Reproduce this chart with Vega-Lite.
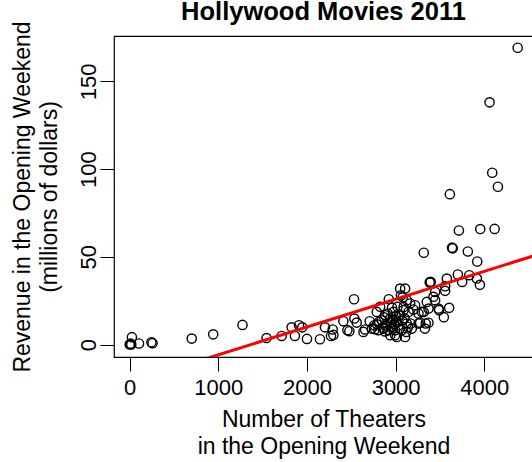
{
  "$schema": "https://vega.github.io/schema/vega-lite/v6.json",
  "autosize": {"type": "none"},
  "padding": {"left": 114, "top": 36, "right": 0, "bottom": 105},
  "width": 419,
  "height": 321,
  "background": "white",
  "config": {
    "font": "Liberation Sans",
    "view": {"stroke": "black", "strokeWidth": 1.2},
    "axis": {"grid": false, "domain": false, "tickColor": "black", "tickSize": 14, "tickWidth": 1, "labelColor": "black", "titleColor": "black", "labelFont": "Liberation Sans", "titleFont": "Liberation Sans", "labelFontSize": 22, "titleFontSize": 23, "titleFontWeight": "normal"}
  },
  "title": {"text": "Hollywood Movies 2011", "anchor": "middle", "frame": "group", "baseline": "alphabetic", "offset": 1, "dy": 25.5, "fontSize": 25.5, "fontWeight": "bold", "font": "Liberation Sans", "color": "black"},
  "datasets": {
    "movies": [
      {"theaters": 0, "revenue": 0}, {"theaters": 10, "revenue": 0.5}, {"theaters": 18, "revenue": 0}, {"theaters": 25, "revenue": 4.2},
      {"theaters": 105, "revenue": 0.6}, {"theaters": 245, "revenue": 1.3}, {"theaters": 258, "revenue": 0.8}, {"theaters": 700, "revenue": 3.4},
      {"theaters": 942, "revenue": 5.8}, {"theaters": 1273, "revenue": 11.2}, {"theaters": 1544, "revenue": 3.7}, {"theaters": 1714, "revenue": 4.9},
      {"theaters": 1827, "revenue": 9.8}, {"theaters": 1864, "revenue": 4.9}, {"theaters": 1910, "revenue": 11}, {"theaters": 1947, "revenue": 9.8},
      {"theaters": 2000, "revenue": 3.2}, {"theaters": 2147, "revenue": 3.0}, {"theaters": 2203, "revenue": 9.8}, {"theaters": 2271, "revenue": 4.9},
      {"theaters": 2290, "revenue": 8.6}, {"theaters": 2298, "revenue": 5.5}, {"theaters": 2411, "revenue": 13.3}, {"theaters": 2456, "revenue": 8.2},
      {"theaters": 2478, "revenue": 7.6}, {"theaters": 2531, "revenue": 25.8}, {"theaters": 2535, "revenue": 14.8}, {"theaters": 2561, "revenue": 12.5},
      {"theaters": 2637, "revenue": 7.2}, {"theaters": 2655, "revenue": 8.6}, {"theaters": 2708, "revenue": 13.3}, {"theaters": 2731, "revenue": 9.1},
      {"theaters": 2768, "revenue": 8.7}, {"theaters": 2787, "revenue": 18.6}, {"theaters": 2790, "revenue": 11.5}, {"theaters": 2806, "revenue": 8.2},
      {"theaters": 2815, "revenue": 13}, {"theaters": 2825, "revenue": 21.5}, {"theaters": 2844, "revenue": 13.9}, {"theaters": 2850, "revenue": 9.5},
      {"theaters": 2863, "revenue": 9.1}, {"theaters": 2870, "revenue": 15.5}, {"theaters": 2881, "revenue": 16.7}, {"theaters": 2890, "revenue": 11},
      {"theaters": 2900, "revenue": 12}, {"theaters": 2910, "revenue": 17.7}, {"theaters": 2919, "revenue": 8.2}, {"theaters": 2923, "revenue": 25.8},
      {"theaters": 2938, "revenue": 14.8}, {"theaters": 2940, "revenue": 5.3}, {"theaters": 2950, "revenue": 12.5}, {"theaters": 2957, "revenue": 10},
      {"theaters": 2970, "revenue": 14}, {"theaters": 2975, "revenue": 18.6}, {"theaters": 2985, "revenue": 11.5}, {"theaters": 2994, "revenue": 5.3},
      {"theaters": 2994, "revenue": 8.2}, {"theaters": 3006, "revenue": 13.9}, {"theaters": 3013, "revenue": 4.3}, {"theaters": 3015, "revenue": 12.9},
      {"theaters": 3021, "revenue": 21.5}, {"theaters": 3032, "revenue": 11}, {"theaters": 3035, "revenue": 16.7}, {"theaters": 3045, "revenue": 9},
      {"theaters": 3051, "revenue": 31.9}, {"theaters": 3060, "revenue": 28}, {"theaters": 3107, "revenue": 31.9}, {"theaters": 3051, "revenue": 16.7},
      {"theaters": 3070, "revenue": 8.2}, {"theaters": 3075, "revenue": 13.5}, {"theaters": 3089, "revenue": 19.6}, {"theaters": 3090, "revenue": 21.4},
      {"theaters": 3100, "revenue": 15}, {"theaters": 3107, "revenue": 4.3}, {"theaters": 3119, "revenue": 7.2}, {"theaters": 3126, "revenue": 12},
      {"theaters": 3126, "revenue": 25.3}, {"theaters": 3145, "revenue": 18.6}, {"theaters": 3164, "revenue": 23.4}, {"theaters": 3170, "revenue": 12},
      {"theaters": 3183, "revenue": 9.1}, {"theaters": 3200, "revenue": 20}, {"theaters": 3220, "revenue": 22.4}, {"theaters": 3258, "revenue": 17.7},
      {"theaters": 3258, "revenue": 12}, {"theaters": 3277, "revenue": 12.4}, {"theaters": 3296, "revenue": 18.6}, {"theaters": 3318, "revenue": 18.6},
      {"theaters": 3330, "revenue": 9.1}, {"theaters": 3318, "revenue": 52.3}, {"theaters": 3340, "revenue": 12}, {"theaters": 3352, "revenue": 24.3},
      {"theaters": 3371, "revenue": 12.4}, {"theaters": 3371, "revenue": 20.5}, {"theaters": 3385, "revenue": 35.5}, {"theaters": 3390, "revenue": 35.2},
      {"theaters": 3395, "revenue": 35.8}, {"theaters": 3427, "revenue": 27.2}, {"theaters": 3446, "revenue": 30}, {"theaters": 3446, "revenue": 25.3},
      {"theaters": 3484, "revenue": 20.5}, {"theaters": 3491, "revenue": 19.6}, {"theaters": 3544, "revenue": 15.6}, {"theaters": 3559, "revenue": 30.6},
      {"theaters": 3559, "revenue": 33.2}, {"theaters": 3578, "revenue": 37.6}, {"theaters": 3604, "revenue": 20.9}, {"theaters": 3612, "revenue": 85.7},
      {"theaters": 3636, "revenue": 55.2}, {"theaters": 3645, "revenue": 54.8}, {"theaters": 3702, "revenue": 39.9}, {"theaters": 3714, "revenue": 65},
      {"theaters": 3751, "revenue": 35.7}, {"theaters": 3815, "revenue": 53}, {"theaters": 3831, "revenue": 39.5}, {"theaters": 3917, "revenue": 37.6},
      {"theaters": 3921, "revenue": 47.3}, {"theaters": 3951, "revenue": 34}, {"theaters": 3955, "revenue": 65.8}, {"theaters": 4060, "revenue": 138},
      {"theaters": 4090, "revenue": 97.9}, {"theaters": 4117, "revenue": 65.9}, {"theaters": 4154, "revenue": 89.9}, {"theaters": 4377, "revenue": 169.1},
      {"theaters": 2880, "revenue": 7.5}, {"theaters": 3000, "revenue": 16}, {"theaters": 3140, "revenue": 10}, {"theaters": 2760, "revenue": 11},
      {"theaters": 2960, "revenue": 21}, {"theaters": 3080, "revenue": 27}
    ],
    "fit": [
      {"theaters": 0, "revenue": -21.7},
      {"theaters": 4560, "revenue": 50.6}
    ]
  },
  "layer": [
    {
      "data": {"name": "movies"},
      "mark": {"type": "point", "shape": "circle", "filled": false, "stroke": "black", "strokeWidth": 1.4, "size": 85, "opacity": 1, "clip": true},
      "encoding": {
        "x": {"field": "theaters", "type": "quantitative", "scale": {"domain": [-177, 4550], "nice": false, "zero": false},
          "axis": {"values": [0, 1000, 2000, 3000, 4000], "format": "d", "labelPadding": 6, "labelBaseline": "top", "title": ["Number of Theaters", "in the Opening Weekend"], "titleBaseline": "alphabetic", "titleY": 69, "titleLineHeight": 27}},
        "y": {"field": "revenue", "type": "quantitative", "scale": {"domain": [-7.1, 175.8], "nice": false, "zero": false},
          "axis": {"values": [0, 50, 100, 150], "labelAngle": -90, "labelAlign": "center", "labelBaseline": "alphabetic", "labelPadding": 5, "title": ["Revenue in the Opening Weekend", "(millions of dollars)"], "titleAngle": -90, "titleAlign": "center", "titleBaseline": "alphabetic", "titleX": -85, "titleY": 160.5, "titleLineHeight": 27}}
      }
    },
    {
      "data": {"name": "fit"},
      "mark": {"type": "line", "color": "#ff0000", "strokeWidth": 3, "clip": true},
      "encoding": {
        "x": {"field": "theaters", "type": "quantitative"},
        "y": {"field": "revenue", "type": "quantitative"}
      }
    }
  ]
}
